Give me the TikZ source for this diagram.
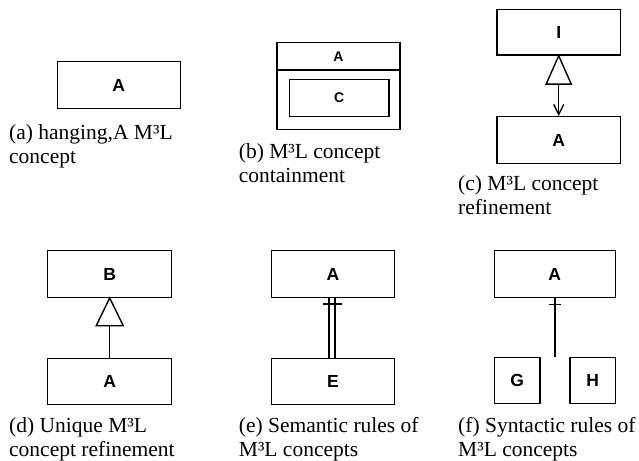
\documentclass[tikz,border=0pt]{standalone}
\usepackage{fontspec}
\setmainfont{Liberation Serif}
\newfontfamily\boxfont{Liberation Sans}
\usetikzlibrary{arrows.meta,calc}
\begin{document}
\begin{tikzpicture}[x=1pt,y=-1pt,
  cbox/.style={draw, line width=1.4pt, inner sep=0pt, font=\boxfont\fontsize{17.5}{20}\selectfont\bfseries},
  sbox/.style={draw, line width=1.4pt, inner sep=0pt, font=\boxfont\fontsize{14}{16}\selectfont\bfseries},
  lab/.style={inner sep=0pt, font=\boxfont\fontsize{14}{16}\selectfont\bfseries},
  capline/.style={anchor=base west, inner sep=0pt, font=\fontsize{21.5}{24}\selectfont},
  conn/.style={line width=1.4pt},
  tri/.style={line width=1.4pt, fill=white}
]
\useasboundingbox (0,0) rectangle (639,460);

% (a)
\node[cbox, minimum width=123pt, minimum height=46.6pt] (aA) at (118.8,85) {A};
\node[capline] (capa1) at (9,139.3) {(a) hanging,A M³L};
\node[capline] (capa2) at (9,163.3) {concept};

% (b)
\node[draw, line width=1.4pt, minimum width=123pt, minimum height=87pt, inner sep=0pt] (bO) at (338.5,85.8) {};
\coordinate (bdiv) at (0,70);
\draw[conn] (bO.west |- bdiv) -- (bO.east |- bdiv);
\node[lab] (bA) at (338.5,56.5) {A};
\node[sbox, minimum width=99.7pt, minimum height=37.5pt] (bC) at (339.2,98) {C};
\node[capline] (capb1) at (238.7,158.3) {(b) M³L concept};
\node[capline] (capb2) at (238.7,182.7) {containment};

% (c)
\node[cbox, minimum width=123.3pt, minimum height=45.7pt] (cI) at (558.7,32.2) {I};
\node[cbox, minimum width=123.3pt, minimum height=46.6pt] (cA) at (558.7,140) {A};
\draw[tri] (cI.south) -- ++(-12.5,28.3) -- ++(25,0) -- cycle;
\coordinate (cbase) at ($(cI.south)+(0,28.3)$);
\draw[conn, -{Straight Barb[length=10pt, width=10pt, line width=1.4pt]}] (cbase) -- (cA.north);
\node[capline] (capc1) at (458,190) {(c) M³L concept};
\node[capline] (capc2) at (458,214) {refinement};

% (d)
\node[cbox, minimum width=124pt, minimum height=46.6pt] (dB) at (109.7,274) {B};
\node[cbox, minimum width=124pt, minimum height=46pt] (dA) at (109.7,381.3) {A};
\draw[tri] (dB.south) -- ++(-13.5,27.7) -- ++(27,0) -- cycle;
\coordinate (dbase) at ($(dB.south)+(0,27.7)$);
\draw[conn] (dbase) -- (dA.north);
\node[capline] (capd1) at (9,432) {(d) Unique M³L};
\node[capline] (capd2) at (9,456) {concept refinement};

% (e)
\node[cbox, minimum width=123.4pt, minimum height=46.6pt] (eA) at (333,274) {A};
\node[cbox, minimum width=123.4pt, minimum height=46pt] (eE) at (333,381.3) {E};
\draw[conn] ([xshift=-4pt]eA.south) -- ([xshift=-4pt]eE.north);
\draw[conn] ([xshift=2pt]eA.south) -- ([xshift=2pt]eE.north);
\draw[conn] ([xshift=-10.5pt,yshift=-6pt]eA.south) -- ([xshift=9pt,yshift=-6pt]eA.south);
\node[capline] (cape1) at (238.7,432) {(e) Semantic rules of};
\node[capline] (cape2) at (238.7,456) {M³L concepts};

% (f)
\node[cbox, minimum width=121pt, minimum height=47pt] (fA) at (554.8,274.2) {A};
\node[cbox, minimum width=45.7pt, minimum height=46pt] (fG) at (517.2,380.7) {G};
\node[cbox, minimum width=45.3pt, minimum height=46pt] (fH) at (592.7,380.7) {H};
\coordinate (fend) at (fA.south |- fG.north);
\draw[conn] (fA.south) -- (fend);
\draw[conn] ([xshift=-6pt,yshift=-6pt]fA.south) -- ([xshift=6pt,yshift=-6pt]fA.south);
\node[capline] (capf1) at (458,432) {(f) Syntactic rules of};
\node[capline] (capf2) at (458,456) {M³L concepts};
\end{tikzpicture}
\end{document}
